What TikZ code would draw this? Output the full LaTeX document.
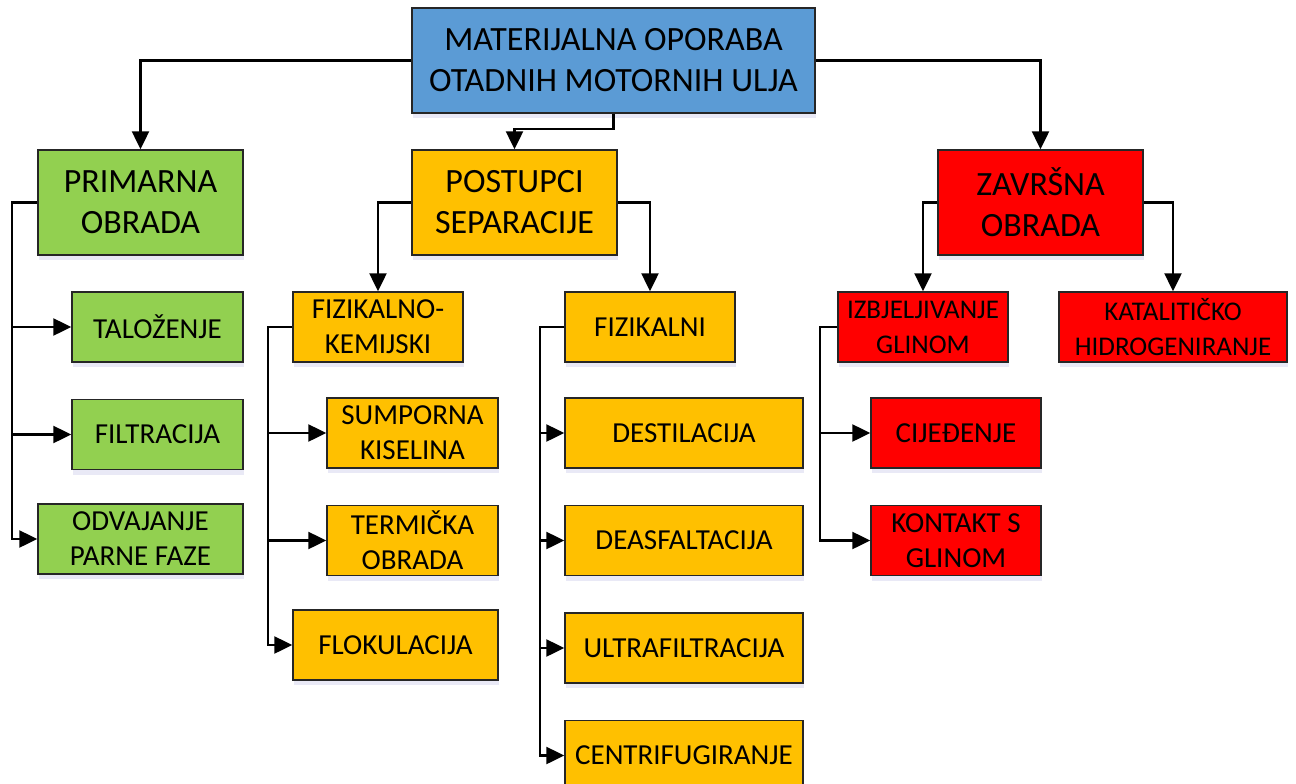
\documentclass[tikz,border=0pt]{standalone}
\usepackage{fontspec}
\setmainfont{Carlito}
\usetikzlibrary{positioning,arrows.meta,shadows}

\definecolor{boxblue}{HTML}{5B9BD5}
\definecolor{boxgreen}{HTML}{92D050}
\definecolor{boxorange}{HTML}{FFC000}
\definecolor{boxred}{HTML}{FF0000}

\tikzset{
  box/.style={draw=black!85, line width=1.5pt, align=center, inner sep=1pt,
    drop shadow={opacity=0.12, fill=blue!40!gray, shadow xshift=1pt, shadow yshift=-5pt}},
  big/.style={box, minimum width=205pt, minimum height=105pt, font=\fontsize{34}{41}\selectfont},
  small/.style={box, minimum width=170pt, minimum height=70pt, font=\fontsize{29}{35}\selectfont},
  narrow/.style={font=\fontsize{27}{35}\selectfont},
  wire/.style={line width=2.5pt},
  arr/.style={wire, -{Triangle[length=18pt,width=17pt]}}
}

\begin{document}
\begin{tikzpicture}[x=1pt, y=-1pt, node distance=36pt]
  \useasboundingbox (0,0) rectangle (1296,784);

  % Root node
  \node[big, fill=boxblue, minimum width=403pt] (root) at (613.5,60.5)
    {MATERIJALNA OPORABA\\OTADNIH MOTORNIH ULJA};

  % Nodes for main groups
  \node[big, fill=boxgreen]  (prim) at (140.5,202.5) {PRIMARNA\\OBRADA};
  \node[big, fill=boxorange] (post) at (514.5,202.5) {POSTUPCI\\SEPARACIJE};
  \node[big, fill=boxred]    (zavr) at (1040.5,202.5) {ZAVRŠNA\\OBRADA};

  % Primary treatment
  \node[small, fill=boxgreen, minimum width=171pt] (talo) at (157.5,327) {TALOŽENJE};
  \node[small, fill=boxgreen, minimum width=171pt, below=of talo] (filt) {FILTRACIJA};
  \node[small, fill=boxgreen, minimum width=205pt] (odva) at (140.5,539) {ODVAJANJE\\PARNE FAZE};

  % Physico-chemical separation
  \node[small, fill=boxorange] (fkem) at (378,327) {FIZIKALNO-\\KEMIJSKI};
  \node[small, fill=boxorange, minimum width=171pt] (sump) at (412.5,433) {SUMPORNA\\KISELINA};
  \node[small, fill=boxorange, minimum width=171pt, below=of sump] (term) {TERMIČKA\\OBRADA};
  \node[small, fill=boxorange, minimum width=205pt] (flok) at (395.5,645) {FLOKULACIJA};

  % Physical separation
  \node[small, fill=boxorange] (fizi) at (650,327) {FIZIKALNI};
  \node[small, fill=boxorange, minimum width=238pt] (dest) at (684,433) {DESTILACIJA};
  \node[small, fill=boxorange, minimum width=238pt, below=of dest] (deas) {DEASFALTACIJA};
  \node[small, fill=boxorange, minimum width=238pt, below=of deas] (ultr) {ULTRAFILTRACIJA};
  \node[small, fill=boxorange, minimum width=238pt, below=of ultr] (cent) {CENTRIFUGIRANJE};

  % Final treatment
  \node[small, narrow, fill=boxred] (izbj) at (923,327) {IZBJELJIVANJE\\GLINOM};
  \node[small, narrow, fill=boxred, minimum width=228pt] (kata) at (1173,327) {KATALITIČKO\\HIDROGENIRANJE};
  \node[small, fill=boxred] (cije) at (956,433) {CIJEĐENJE};
  \node[small, fill=boxred, below=of cije] (kont) {KONTAKT S\\GLINOM};

  % Bus lines
  \coordinate (pbus) at (12,202.5);
  \coordinate (kbus) at (268,327);
  \coordinate (fbus) at (540,327);
  \coordinate (zbus) at (820,327);

  % Edges from root
  \draw[arr] (root.west) -| (prim.north);
  \draw[arr] (root.east) -| (zavr.north);
  \draw[arr] (root.south) -- ++(0,15) -| (post.north);

  % Edges from main groups
  \draw[arr] (post.west) -| (fkem.north);
  \draw[arr] (post.east) -| (fizi.north);
  \draw[arr] (zavr.west) -| (izbj.north);
  \draw[arr] (zavr.east) -| (kata.north);

  % Primary treatment edges
  \draw[arr] (prim.west) -- (pbus) |- (odva.west);
  \draw[arr] (pbus |- talo.west) -- (talo.west);
  \draw[arr] (pbus |- filt.west) -- (filt.west);

  % Physico-chemical edges
  \draw[arr] (fkem.west) -- (kbus) |- (flok.west);
  \draw[arr] (kbus |- sump.west) -- (sump.west);
  \draw[arr] (kbus |- term.west) -- (term.west);

  % Physical edges
  \draw[arr] (fizi.west) -- (fbus) |- (cent.west);
  \draw[arr] (fbus |- dest.west) -- (dest.west);
  \draw[arr] (fbus |- deas.west) -- (deas.west);
  \draw[arr] (fbus |- ultr.west) -- (ultr.west);

  % Final treatment edges
  \draw[arr] (izbj.west) -- (zbus) |- (kont.west);
  \draw[arr] (zbus |- cije.west) -- (cije.west);

\end{tikzpicture}
\end{document}
